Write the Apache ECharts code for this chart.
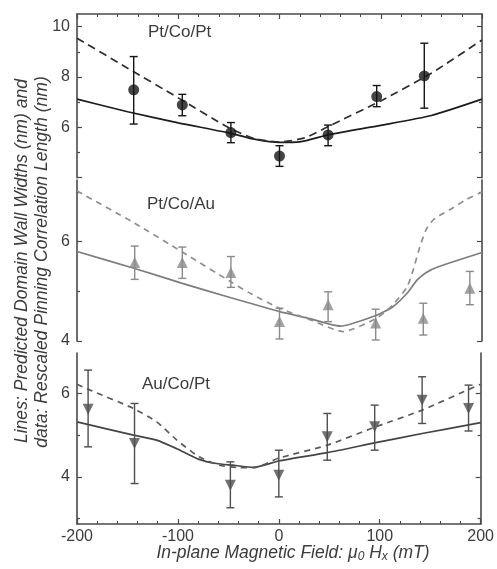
<!DOCTYPE html>
<html>
<head>
<meta charset="utf-8">
<script src="https://cdn.jsdelivr.net/npm/echarts@6/dist/echarts.min.js"></script>
<style>
  html, body { margin: 0; padding: 0; background: #ffffff; }
  #chart { width: 497px; height: 569px; }
</style>
</head>
<body>
<div id="chart"></div>
<script>
// ---- Measured pinning correlation lengths (rescaled, nm) with error bars ----
const fieldPtCoPt   = [-144, -96, -48, 0, 48, 96, 143];
const widthPtCoPt   = [7.49, 6.89, 5.79, 4.86, 5.70, 7.22, 8.04];
const lowPtCoPt     = [6.13, 6.46, 5.39, 4.45, 5.27, 6.82, 6.76];
const highPtCoPt    = [8.81, 7.31, 6.19, 5.27, 6.09, 7.66, 9.34];

const fieldPtCoAu   = [-143, -96, -48, 0, 48, 95, 142, 188];
const widthPtCoAu   = [5.58, 5.58, 5.38, 4.39, 4.73, 4.36, 4.46, 5.06];
const lowPtCoAu     = [5.24, 5.26, 5.08, 4.04, 4.39, 4.02, 4.12, 4.73];
const highPtCoAu    = [5.91, 5.89, 5.70, 4.66, 4.99, 4.64, 4.76, 5.40];

const fieldAuCoPt   = [-189, -143, -48, 0, 48, 95, 142, 188];
const widthAuCoPt   = [5.62, 4.80, 3.80, 4.04, 4.96, 5.20, 5.84, 5.64];
const lowAuCoPt     = [4.72, 3.84, 3.26, 3.52, 4.40, 4.64, 5.28, 5.10];
const highAuCoPt    = [6.56, 5.76, 4.36, 4.64, 5.52, 5.72, 6.40, 6.20];

// ---- Predicted domain wall widths (nm): solid and dashed model curves ----
const solidFieldPtCoPt  = [-200, -150, -100, -50, -25, 0, 20, 50, 100, 150, 200];
const solidWidthPtCoPt  = [7.12, 6.62, 6.18, 5.78, 5.53, 5.40, 5.42, 5.72, 6.08, 6.47, 7.12];
const dashFieldPtCoPt   = [-200, -150, -100, -50, -25, 0, 25, 50, 100, 150, 200];
const dashWidthPtCoPt   = [9.54, 8.35, 7.17, 5.98, 5.56, 5.42, 5.58, 6.07, 7.05, 8.15, 9.47];

const solidFieldPtCoAu  = [-200, -143, -96, -48, -29, 0, 30, 60, 96, 112, 126, 136, 145, 155, 200];
const solidWidthPtCoAu  = [5.80, 5.46, 5.16, 4.87, 4.76, 4.59, 4.45, 4.30, 4.52, 4.69, 4.96, 5.23, 5.38, 5.48, 5.78];
const dashFieldPtCoAu   = [-200, -143, -96, -48, -29, 0, 30, 63, 96, 112, 126, 132, 139, 145, 152, 160, 168, 184, 200];
const dashWidthPtCoAu   = [7.02, 6.37, 5.79, 5.19, 4.96, 4.66, 4.43, 4.19, 4.46, 4.73, 5.09, 5.43, 5.92, 6.25, 6.44, 6.55, 6.64, 6.84, 7.00];

const solidFieldAuCoPt  = [-200, -144, -121, -98, -79, -62, -46, -25, 0, 48, 96, 142, 200];
const solidWidthAuCoPt  = [5.32, 5.00, 4.88, 4.64, 4.42, 4.32, 4.28, 4.23, 4.38, 4.58, 4.82, 5.04, 5.30];
const dashFieldAuCoPt   = [-200, -187, -144, -121, -101, -79, -59, -39, -25, 0, 48, 96, 142, 194, 200];
const dashWidthAuCoPt   = [6.22, 6.08, 5.64, 5.32, 4.88, 4.48, 4.28, 4.22, 4.22, 4.45, 4.76, 5.20, 5.60, 6.16, 6.22];

// ---- Axis ticks and labels ----
const fieldTicks      = [-200, -100, 0, 100, 200];
const panelNames      = ['Pt/Co/Pt', 'Pt/Co/Au', 'Au/Co/Pt'];
const majorTicksPtCoPt = [4, 6, 8, 10];
const minorTicksPtCoPt = [5, 7, 9];
const labelsPtCoPt     = [6, 8, 10];
const majorTicksPtCoAu = [4, 6];
const minorTicksPtCoAu = [5, 7];
const labelsPtCoAu     = [4, 6];
const majorTicksAuCoPt = [4, 6];
const minorTicksAuCoPt = [3, 5];
const labelsAuCoPt     = [4, 6];

const FONT = "'Liberation Sans', Arial, Helvetica, sans-serif";
const AXIS_COLOR = '#4a4a4a';
const TEXT_COLOR = '#3c3c3c';

const zip = (xs, ys) => xs.map((x, i) => [x, ys[i]]);
const zip3 = (xs, a, b) => xs.map((x, i) => [x, a[i], b[i]]);

// Panel layout (pixels) and value ranges
const panels = [
  { top: 14,  height: 163.7, min: 4,    max: 10.5, major: majorTicksPtCoPt, minor: minorTicksPtCoPt, labels: labelsPtCoPt,
    color: '#151515', lineColor: '#1c1c1c', dashColor: '#2e2e2e', dash: [8, 5], symbol: 'circle', rotate: 0, size: 11,
    pts: [fieldPtCoPt, widthPtCoPt, lowPtCoPt, highPtCoPt],
    solid: [solidFieldPtCoPt, solidWidthPtCoPt], dashed: [dashFieldPtCoPt, dashWidthPtCoPt] },
  { top: 180, height: 161,   min: 4,    max: 7.24, major: majorTicksPtCoAu, minor: minorTicksPtCoAu, labels: labelsPtCoAu,
    color: '#8a8a8a', lineColor: '#7d7d7d', dashColor: '#8f8f8f', dash: [6, 5], symbol: 'triangle', rotate: 0, size: 11,
    pts: [fieldPtCoAu, widthPtCoAu, lowPtCoAu, highPtCoAu],
    solid: [solidFieldPtCoAu, solidWidthPtCoAu], dashed: [dashFieldPtCoAu, dashWidthPtCoAu] },
  { top: 353, height: 171,   min: 2.87, max: 6.97, major: majorTicksAuCoPt, minor: minorTicksAuCoPt, labels: labelsAuCoPt,
    color: '#4e4e4e', lineColor: '#444444', dashColor: '#5a5a5a', dash: [6, 5], symbol: 'triangle', rotate: 180, size: 11,
    pts: [fieldAuCoPt, widthAuCoPt, lowAuCoPt, highAuCoPt],
    solid: [solidFieldAuCoPt, solidWidthAuCoPt], dashed: [dashFieldAuCoPt, dashWidthAuCoPt] }
];

const grid = panels.map(p => ({ left: 77, right: 15, top: p.top, height: p.height }));

const xAxis = panels.map((p, i) => ({
  type: 'value', gridIndex: i, min: -200, max: 200, interval: 100,
  position: i === 0 ? 'top' : 'bottom',
  show: i !== 1,
  axisLine: { show: true, onZero: false, lineStyle: { color: AXIS_COLOR, width: 1.6 } },
  axisTick: { show: true, inside: true, length: 5, lineStyle: { color: AXIS_COLOR, width: 1.2 } },
  minorTick: { show: true, splitNumber: 5, length: 3, lineStyle: { color: AXIS_COLOR, width: 1 } },
  axisLabel: {
    show: i === 2, margin: 5, color: TEXT_COLOR, fontFamily: FONT, fontSize: 16,
    customValues: fieldTicks
  },
  splitLine: { show: false }
}));

// Four y axes per panel: left major (labelled), left minor, right major, right minor
const yAxis = [];
panels.forEach((p, i) => {
  const base = { type: 'value', gridIndex: i, min: p.min, max: p.max, splitLine: { show: false } };
  const tickStyle = { color: AXIS_COLOR, width: 1.2 };
  yAxis.push(Object.assign({}, base, {
    position: 'left',
    axisLine: { show: true, onZero: false, lineStyle: { color: AXIS_COLOR, width: 1.6 } },
    axisTick: { show: true, inside: true, length: 5, lineStyle: tickStyle, customValues: p.major },
    axisLabel: { show: true, margin: 7, color: TEXT_COLOR, fontFamily: FONT, fontSize: 16, customValues: p.labels }
  }));
  yAxis.push(Object.assign({}, base, {
    position: 'left',
    axisLine: { show: false, onZero: false },
    axisTick: { show: true, inside: true, length: 3, lineStyle: tickStyle, customValues: p.minor },
    axisLabel: { show: false }
  }));
  yAxis.push(Object.assign({}, base, {
    position: 'right',
    axisLine: { show: true, onZero: false, lineStyle: { color: AXIS_COLOR, width: 1.6 } },
    axisTick: { show: true, inside: true, length: 5, lineStyle: tickStyle, customValues: p.major },
    axisLabel: { show: false }
  }));
  yAxis.push(Object.assign({}, base, {
    position: 'right',
    axisLine: { show: false, onZero: false },
    axisTick: { show: true, inside: true, length: 3, lineStyle: tickStyle, customValues: p.minor },
    axisLabel: { show: false }
  }));
});

function errorBarRenderer(color) {
  return function (params, api) {
    const x = api.value(0);
    const lo = api.coord([x, api.value(1)]);
    const hi = api.coord([x, api.value(2)]);
    const cap = 4;
    const style = { stroke: color, lineWidth: 1.4 };
    return {
      type: 'group',
      children: [
        { type: 'line', shape: { x1: lo[0], y1: lo[1], x2: hi[0], y2: hi[1] }, style },
        { type: 'line', shape: { x1: lo[0] - cap, y1: lo[1], x2: lo[0] + cap, y2: lo[1] }, style },
        { type: 'line', shape: { x1: hi[0] - cap, y1: hi[1], x2: hi[0] + cap, y2: hi[1] }, style }
      ]
    };
  };
}

const series = [];
panels.forEach((p, i) => {
  const axes = { xAxisIndex: i, yAxisIndex: i * 4 };
  series.push(Object.assign({
    type: 'line', data: zip(p.solid[0], p.solid[1]), smooth: 0.2, showSymbol: false, silent: true,
    lineStyle: { color: p.lineColor, width: 1.7 }, z: 2
  }, axes));
  series.push(Object.assign({
    type: 'line', data: zip(p.dashed[0], p.dashed[1]), smooth: 0.2, showSymbol: false, silent: true,
    lineStyle: { color: p.dashColor, width: 1.7, type: p.dash }, z: 2
  }, axes));
  series.push(Object.assign({
    type: 'custom', data: zip3(p.pts[0], p.pts[2], p.pts[3]),
    encode: { x: 0, y: [1, 2] }, renderItem: errorBarRenderer(p.color), silent: true, z: 3
  }, axes));
  series.push(Object.assign({
    type: 'scatter', data: zip(p.pts[0], p.pts[1]), symbol: p.symbol, symbolSize: p.size,
    symbolRotate: p.rotate, itemStyle: { color: p.color }, silent: true, z: 4
  }, axes));
});

const titleStyle = { fontFamily: FONT, fontSize: 17, fill: TEXT_COLOR, textAlign: 'left', textVerticalAlign: 'middle' };
const axisTitleStyle = { fontFamily: FONT, fontStyle: 'italic', fontSize: 17.6, fill: TEXT_COLOR,
                         textAlign: 'center', textVerticalAlign: 'middle' };
const graphic = [
  { type: 'text', left: 148, top: 24, style: Object.assign({}, titleStyle, { text: panelNames[0] }) },
  { type: 'text', left: 147, top: 196, style: Object.assign({}, titleStyle, { text: panelNames[1] }) },
  { type: 'text', left: 142, top: 376, style: Object.assign({}, titleStyle, { text: panelNames[2] }) },
  { type: 'text', x: 22, y: 261, rotation: Math.PI / 2,
    style: Object.assign({}, axisTitleStyle, { text: 'Lines: Predicted Domain Wall Widths (nm) and' }) },
  { type: 'text', x: 42, y: 262, rotation: Math.PI / 2,
    style: Object.assign({}, axisTitleStyle, { text: 'data: Rescaled Pinning Correlation Length (nm)' }) },
  {
    type: 'text', x: 293, y: 553,
    style: {
      text: '{m|In-plane Magnetic Field: μ}{s|0}{m| H}{s|x}{m| (mT)}',
      textAlign: 'center', textVerticalAlign: 'middle', fill: TEXT_COLOR,
      rich: {
        m: { fontFamily: FONT, fontStyle: 'italic', fontSize: 17.5, lineHeight: 20, color: TEXT_COLOR },
        s: { fontFamily: FONT, fontStyle: 'italic', fontSize: 12, lineHeight: 20, verticalAlign: 'bottom', color: TEXT_COLOR }
      }
    }
  }
];

const chart = echarts.init(document.getElementById('chart'), null, { renderer: 'canvas' });
chart.setOption({
  animation: false,
  backgroundColor: '#ffffff',
  grid, xAxis, yAxis, series, graphic
});
</script>
</body>
</html>
